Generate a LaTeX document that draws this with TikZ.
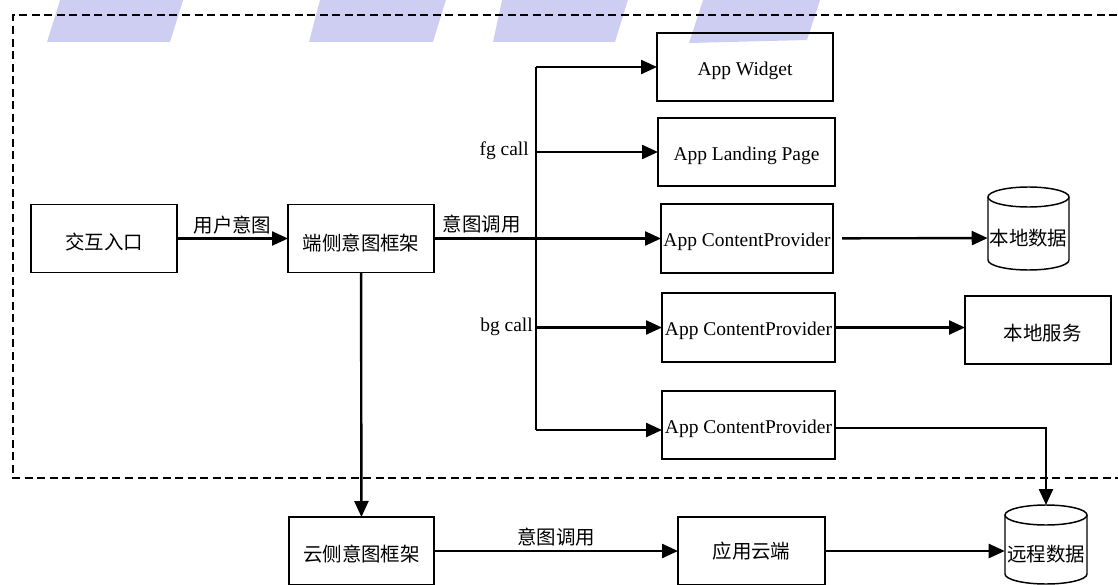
\documentclass[tikz,border=0pt]{standalone}
\usepackage{fontspec}
\setmainfont{Liberation Serif}
\newfontfamily\cjk{Noto Sans CJK SC}
\usetikzlibrary{arrows.meta,calc}
\definecolor{lavender}{RGB}{206,206,242}

% cylinder outline: centre x, top y, bottom y, x radius, y radius
\newcommand\drumoutline[5]{%
  \draw[drum] (#1-#4,#2+#5) -- (#1-#4,#3-#5)
    arc[start angle=180,end angle=0,x radius=#4,y radius=#5] -- (#1+#4,#2+#5);
  \draw[drum] (#1,#2+#5) ellipse[x radius=#4,y radius=#5];
}
% box text sits a little below the box centre
\newcommand\lo[2]{\raisebox{-#1}[\height][\depth]{#2}}

\begin{document}
\begin{tikzpicture}[x=0.75pt,y=-0.75pt,
  txt/.style={font=\fontsize{14.6}{17}\selectfont},
  cn/.style={font=\cjk\fontsize{14.6}{17}\selectfont},
  box/.style={draw, line width=1.1pt, inner sep=0pt, outer sep=0pt, minimum height=51pt},
  drum/.style={line width=1.1pt},
  lbl/.style={inner sep=0pt},
  conn/.style={line width=1.8pt},
  arr/.style={conn, -{Triangle[length=12pt,width=10.5pt]}},
  frame/.style={line width=1.3pt, dash pattern=on 6pt off 3.4pt}
]
\useasboundingbox (0,0) rectangle (1118,585);

% banner strips along the top edge
\fill[lavender] (60.7,-2) -- (183.7,-2) -- (170,42) -- (47,42) -- cycle;
\fill[lavender] (320.5,-2) -- (446.5,-2) -- (433,42) -- (309,42) -- cycle;
\fill[lavender] (502.5,-2) -- (628.5,-2) -- (615,42) -- (493,42) -- cycle;
\fill[lavender] (703.7,-2) -- (820.7,-2) -- (807,40) -- (689,43) -- cycle;

% device-side region
\draw[frame] (1130,15) -- (13,15) -- (13,478) -- (1130,478);

% boxes
\node[box, cn, minimum width=109.5pt] (entry) at (104,238.5) {\lo{3pt}{交互入口}};
\node[box, cn, minimum width=109.5pt] (edge) at (361,238.5) {\lo{3.5pt}{端侧意图框架}};
\node[box, txt, minimum width=132pt] (widget) at (745,67) {\lo{3pt}{App Widget}};
\node[box, txt, minimum width=132.75pt] (landing) at (746.5,152) {\lo{3pt}{App Landing Page}};
\node[box, txt, minimum width=129pt, minimum height=51.75pt] (cp1) at (747,238.5) {\lo{2.5pt}{App ContentProvider}};
\node[box, txt, minimum width=129.75pt, minimum height=51.75pt] (cp2) at (748.5,327.5) {\lo{2.5pt}{App ContentProvider}};
\node[box, txt, minimum width=129.75pt] (cp3) at (748.5,425) {\lo{2.5pt}{App ContentProvider}};
\node[box, cn, minimum width=109.5pt] (lsvc) at (1038,330) {\lo{2pt}{\hspace{7pt}本地服务}};
\node[box, cn, minimum width=108.75pt] (cloud) at (361.5,551) {\lo{2pt}{云侧意图框架}};
\node[box, cn, minimum width=110.25pt] (appcloud) at (751.5,551) {应用云端};

% data stores
\drumoutline{1028.5}{187}{270}{40.5}{10}
\node[cn, inner sep=0pt, minimum width=60.75pt] (ldata) at (1028.5,238) {本地数据};
\drumoutline{1046}{505}{584}{41}{10}
\node[cn, inner sep=0pt, minimum width=61.5pt] (rdata) at (1046,554) {远程数据};
\coordinate (rtop) at (1046,505);

% dispatch trunk
\coordinate (ttop) at (536,67);
\coordinate (tbot) at (536,430);

% connectors
\draw[arr] (entry) -- node[lbl, cn, above=2pt] (lab1) {用户意图} (edge);
\draw[arr] (edge) -- node[lbl, cn, above=3pt, pos=0.21] (lab2) {意图调用} (cp1);
\draw[conn] (ttop) -- (tbot);
\draw[arr] (ttop) -- (widget);
\draw[arr] (ttop |- landing) -- (landing);
\draw[arr] (ttop |- cp2) -- (cp2);
\draw[arr] (tbot) -- (tbot -| cp3.west);
\draw[arr, shorten <=6.75pt] (cp1) -- (ldata);
\draw[arr] (cp2.east) -- (cp2.east -| lsvc.west);
\draw[arr] ([yshift=-2.2pt]cp3.east) -| (rtop);
\draw[arr] (edge) -- (cloud);
\draw[arr] (cloud) -- node[lbl, cn, above=3pt] (lab3) {意图调用} (appcloud);
\draw[arr] (appcloud.east) -- (appcloud.east -| rdata.west);

% call labels beside the trunk
\node[lbl, txt, anchor=east] (fg) at (529,151) {fg call};
\node[lbl, txt, anchor=east] (bg) at (533,327) {bg call};
\end{tikzpicture}
\end{document}
